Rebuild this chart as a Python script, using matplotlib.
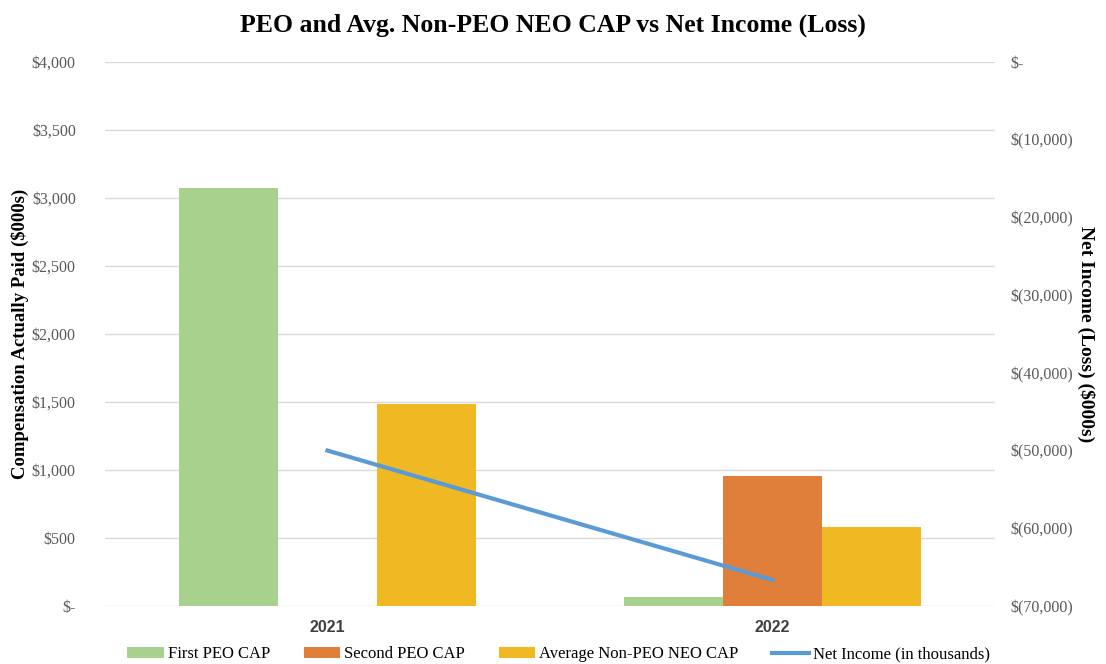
import matplotlib.pyplot as plt
import numpy as np

years = ['2021', '2022']
first_peo = [3075, 66]
second_peo = [0, 956]
avg_non_peo = [1485, 581]
net_income = [-50000, -66650]

left_ticks = [0, 500, 1000, 1500, 2000, 2500, 3000, 3500, 4000]
left_labels = ['$-', '$500', '$1,000', '$1,500', '$2,000', '$2,500', '$3,000', '$3,500', '$4,000']
right_ticks = [0, -10000, -20000, -30000, -40000, -50000, -60000, -70000]
right_labels = ['$-', '$(10,000)', '$(20,000)', '$(30,000)', '$(40,000)', '$(50,000)', '$(60,000)', '$(70,000)']

serif = 'Liberation Serif'
tick_col = '#595959'

fig = plt.figure(figsize=(11.06, 6.64), dpi=100)
ax = fig.add_axes([105 / 1106, 58 / 664, 890 / 1106, 544 / 664])

x = np.arange(len(years))
w = 0.223
ax.bar(x - w, first_peo, w, color='#A9D18E', label='First PEO CAP', zorder=2)
ax.bar(x, second_peo, w, color='#E07F3A', label='Second PEO CAP', zorder=2)
ax.bar(x + w, avg_non_peo, w, color='#F0B823', label='Average Non-PEO NEO CAP', zorder=2)

ax.set_xlim(-0.5, 1.5)
ax.set_ylim(0, 4000)
ax.set_yticks(left_ticks)
ax.set_yticklabels(left_labels, fontfamily=serif, fontsize=11.5, color=tick_col)
ax.set_xticks(x)
ax.set_xticklabels(years, fontfamily='Liberation Sans', fontweight='bold', fontsize=11.5, color='#404040')
ax.tick_params(axis='both', length=0)
ax.tick_params(axis='x', pad=10)
ax.tick_params(axis='y', pad=21)
ax.grid(axis='y', color='#D9D9D9', linewidth=1, zorder=0)
for s in ax.spines.values():
    s.set_visible(False)
ax.set_ylabel('Compensation Actually Paid ($000s)', fontfamily=serif, fontweight='bold', fontsize=13.5, labelpad=2)

ax2 = ax.twinx()
ax2.plot(x, net_income, color='#5B9BD5', linewidth=3, label='Net Income (in thousands)', zorder=3)
ax2.set_ylim(-70000, 0)
ax2.set_yticks(right_ticks)
ax2.set_yticklabels(right_labels, fontfamily=serif, fontsize=11.5, color=tick_col)
ax2.tick_params(axis='y', length=0, pad=11)
for s in ax2.spines.values():
    s.set_visible(False)
ax2.set_ylabel('Net Income (Loss) ($000s)', fontfamily=serif, fontweight='bold', fontsize=14, rotation=270, labelpad=16)

fig.text(0.5, 1 - 25 / 664, 'PEO and Avg. Non-PEO NEO CAP vs Net Income (Loss)', ha='center', va='center',
         fontfamily=serif, fontweight='bold', fontsize=18.5)

h1, l1 = ax.get_legend_handles_labels()
h2, l2 = ax2.get_legend_handles_labels()
fig.legend(h1 + h2, l1 + l2, loc='lower center', ncol=4, frameon=False,
           bbox_to_anchor=(0.505, -0.02), prop={'family': serif, 'size': 12},
           handlelength=2.2, handleheight=0.65, columnspacing=2.0, handletextpad=0.25)

fig.savefig('out.png', dpi=100)
